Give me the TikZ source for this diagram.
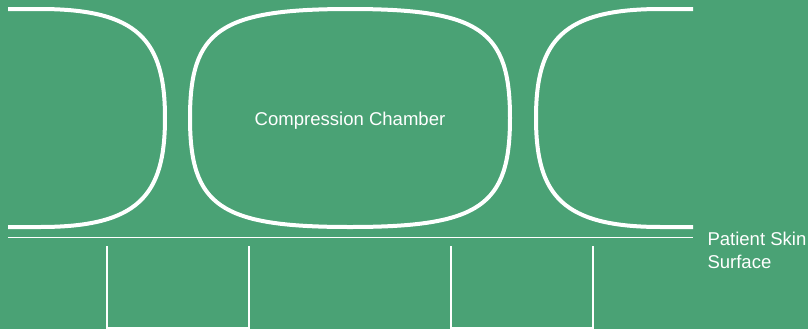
\documentclass[tikz,border=0pt]{standalone}
\usepackage{fontspec}
\setmainfont{Liberation Sans}
\definecolor{bggreen}{RGB}{74,162,117}
\tikzset{every picture/.style={line width=0.75pt}}
\tikzset{
  chamber/.style={draw=white, line width=3pt},
  skin/.style={draw=white, line width=1.1pt},
  pad/.style={draw=white, line width=1.5pt},
  lbl/.style={inner sep=0pt, text=white, font=\fontsize{13.9}{17.3}\selectfont}
}
\begin{document}
\begin{tikzpicture}[x=0.75pt,y=0.75pt,yscale=-1,xscale=1]
	%background, set diagram size 808 x 329
	\fill [bggreen] (0,0) rectangle (808,329) ;
	
	%Shape: Curve [left chamber]
	\draw [chamber] (8,9) -- (40,9) .. controls (138,9) and (165,40) .. (165,118) .. controls (165,196) and (138,227) .. (40,227) -- (8,227) ;
	%Shape: Curve [middle chamber]
	\draw [chamber] (350,9) .. controls (480,9) and (510,30) .. (510,118) .. controls (510,206) and (480,227) .. (350,227) .. controls (220,227) and (190,206) .. (190,118) .. controls (190,30) and (220,9) .. (350,9) -- cycle ;
	%Shape: Curve [right chamber]
	\draw [chamber] (693,9) -- (661,9) .. controls (563,9) and (536,40) .. (536,118) .. controls (536,196) and (563,227) .. (661,227) -- (693,227) ;
	
	%skin line
	\draw [skin] (8,237.5) -- (693,237.5) ;
	%Shape: Bracket [left pad]
	\draw [pad] (107,246) -- (107,327.5) -- (249,327.5) -- (249,246) ;
	%Shape: Bracket [right pad]
	\draw [pad] (451,246) -- (451,327.5) -- (593,327.5) -- (593,246) ;
	
	\node (chamberlbl) [lbl, anchor=base] at (350,125) {Compression Chamber};
	\node (skinlbl) [lbl, anchor=north west, align=left] at (707,231.5) {Patient Skin\\Surface};
\end{tikzpicture}
\end{document}
